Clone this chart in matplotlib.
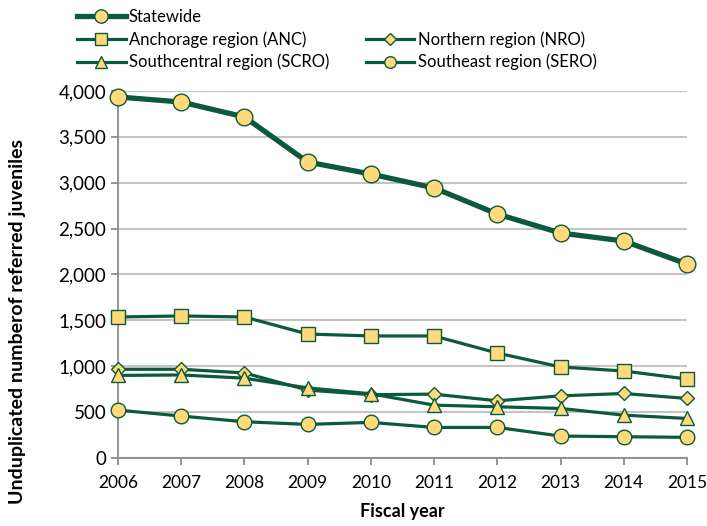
import matplotlib.pyplot as plt
from matplotlib.lines import Line2D
from matplotlib.ticker import FuncFormatter

plt.rcParams['font.family'] = ['Lato', 'DejaVu Sans']

# data
years = [2006, 2007, 2008, 2009, 2010, 2011, 2012, 2013, 2014, 2015]
statewide = [3935, 3880, 3717, 3226, 3095, 2943, 2659, 2452, 2365, 2114]
anc = [1537, 1548, 1537, 1351, 1330, 1330, 1144, 992, 948, 861]
nro = [967, 967, 927, 740, 690, 696, 623, 677, 703, 649]
scro = [900, 905, 870, 764, 700, 576, 558, 540, 467, 431]
sero = [522, 457, 395, 366, 388, 333, 333, 239, 232, 225]

green = '#0b5a3c'
fill = '#ffd97a'
grid = '#c4c4c4'

fig = plt.figure(figsize=(7.07, 5.26), dpi=100)
ax = fig.add_axes([0.1669, 0.1293, 0.8048, 0.6977])

def draw(vals, marker, ms, lw, label):
    return ax.plot(years, vals, color=green, lw=lw, marker=marker, ms=ms,
                   mfc=fill, mec=green, mew=1.0, label=label, zorder=3,
                   clip_on=False)[0]

h_sw = draw(statewide, 'o', 12, 3.8, 'Statewide')
h_anc = draw(anc, 's', 10, 2.3, 'Anchorage region (ANC)')
h_nro = draw(nro, 'D', 7.5, 2.3, 'Northern region (NRO)')
h_scro = draw(scro, '^', 10, 2.3, 'Southcentral region (SCRO)')
h_sero = draw(sero, 'o', 10.5, 2.3, 'Southeast region (SERO)')

ax.set_xlim(2006, 2015)
ax.set_ylim(0, 4000)
ax.set_yticks(range(0, 4001, 500))
ax.set_xticks(years)
ax.yaxis.set_major_formatter(FuncFormatter(lambda v, p: f'{int(v):,}'))
ax.yaxis.grid(True, color=grid, lw=1.5)
ax.set_axisbelow(True)
for s in ['top', 'right']:
    ax.spines[s].set_visible(False)
for s in ['left', 'bottom']:
    ax.spines[s].set_color('#8c8c8c')
    ax.spines[s].set_linewidth(1.3)
ax.tick_params(axis='both', colors='#8c8c8c', labelcolor='black',
               labelsize=12.5, length=5, width=1.3)
ax.tick_params(axis='y', labelsize=13.5)
ax.tick_params(axis='x', pad=7)

ax.set_xlabel('Fiscal year', fontsize=13, fontweight='bold', labelpad=9)
fig.text(0.025, 0.388, 'Unduplicated numberof referred juveniles',
         rotation=90, ha='center', va='center', fontsize=14,
         fontweight='bold')

blank = Line2D([], [], alpha=0)
leg = fig.legend([h_sw, h_anc, h_scro, blank, h_nro, h_sero],
                 ['Statewide', 'Anchorage region (ANC)',
                  'Southcentral region (SCRO)', '', 'Northern region (NRO)',
                  'Southeast region (SERO)'],
                 ncol=2, loc='upper left', bbox_to_anchor=(0.088, 1.012),
                 frameon=False, fontsize=12, handlelength=2.9,
                 handletextpad=0.2, columnspacing=2.2, labelspacing=0.38,
                 markerscale=0.8)

fig.savefig('out.png', dpi=100)
